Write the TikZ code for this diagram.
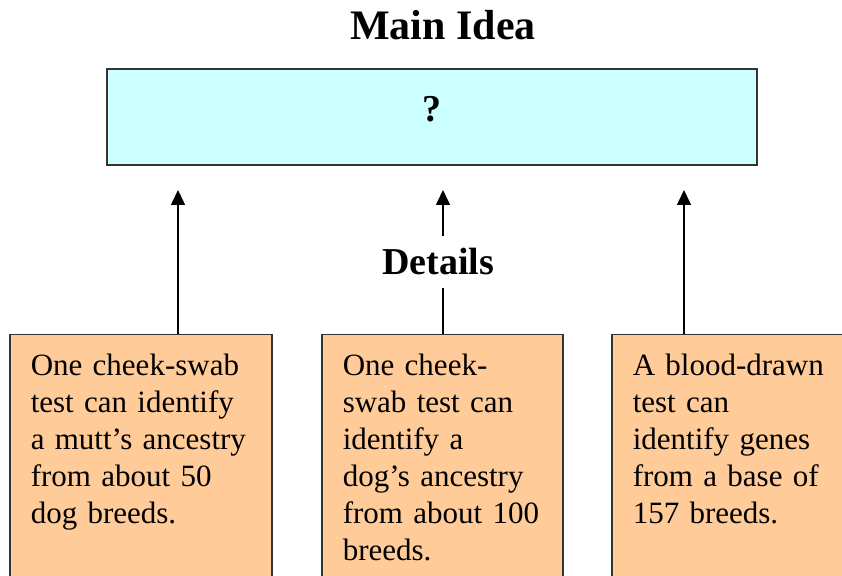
\documentclass[tikz,border=0pt]{standalone}
\usepackage{fontspec}
\setmainfont{Liberation Serif}
\usetikzlibrary{arrows.meta}
\definecolor{IdeaFill}{HTML}{CCFFFF}
\definecolor{DetailFill}{HTML}{FFCC99}
\definecolor{EdgeLine}{HTML}{333333}

\begin{document}
\begin{tikzpicture}[
    x=1pt, y=1pt,
    idea/.style={
        rectangle, draw=EdgeLine, line width=1.5pt, fill=IdeaFill,
        minimum width=650pt, minimum height=96pt, inner sep=0pt,
        text height=53pt, text depth=43pt,
        font=\fontsize{38}{40}\selectfont\bfseries
    },
    detail/.style={
        rectangle, draw=EdgeLine, line width=1.5pt, fill=DetailFill,
        anchor=north west, text width=#1, align=left,
        inner xsep=21pt, inner ysep=14pt, text height=27pt, text depth=211pt,
        font=\fontsize{31}{37}\selectfont
    },
    heading/.style={font=\fontsize{#1}{#1}\selectfont\bfseries,
                    anchor=base, inner xsep=2pt, inner ysep=12pt},
    arr/.style={-{Triangle[length=15pt, width=14pt]}, line width=1.5pt, black}
]
\useasboundingbox (0,0) rectangle (842,575);

% ===================================================================
% MAIN IDEA
% ===================================================================
\node[heading=42] (title) at (443,535) {Main Idea};
\node[idea] (main) at (432,458) {?};

% ===================================================================
% DETAILS
% ===================================================================
\node[detail=220pt] (dA) at (9,241)
    {One cheek-swab\\ test can identify\\ a mutt's ancestry\\
     from about 50\\ dog breeds.};
\node[detail=199pt] (dB) at (321,241)
    {One cheek-\\ swab test can\\ identify a\\ dog's ancestry\\
     from about 100\\ breeds.};
\node[detail=203pt] (dC) at (611,241)
    {A blood-drawn\\ test can\\ identify genes\\ from a base of\\
     157 breeds.};

\node[heading=38] (details) at (438,300) {Details};

% ===================================================================
% ARROWS
% ===================================================================
\coordinate (tipA) at (178,385);
\coordinate (tipB) at (443,385);
\coordinate (tipC) at (684,385);

\draw[arr] (dA.north -| tipA) -- (tipA);
\draw[line width=1.5pt] (dB.north -| tipB) -- (details.south -| tipB);
\draw[arr] (details.north -| tipB) -- (tipB);
\draw[arr] (dC.north -| tipC) -- (tipC);

\end{tikzpicture}
\end{document}
